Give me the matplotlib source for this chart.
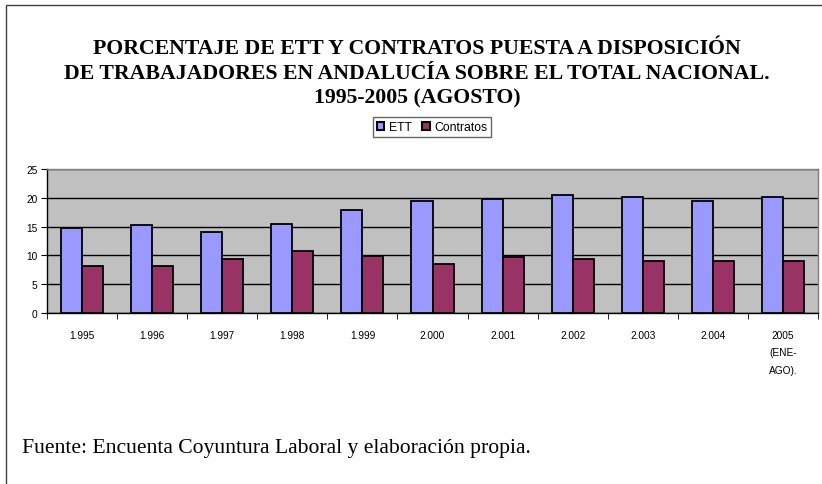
import matplotlib
matplotlib.use("Agg")
import matplotlib.pyplot as plt
import numpy as np
from matplotlib.patches import Rectangle
from matplotlib.ticker import FixedLocator

categories = ["1.995", "1.996", "1.997", "1.998", "1.999", "2.000", "2.001",
              "2.002", "2.003", "2.004", "2005\n(ENE-\nAGO)."]
ett = [14.8, 15.2, 14.0, 15.5, 17.9, 19.4, 19.8, 20.5, 20.1, 19.4, 20.1]
contratos = [8.2, 8.2, 9.3, 10.7, 9.9, 8.5, 9.7, 9.4, 9.0, 9.0, 9.0]
yticks = [0, 5, 10, 15, 20, 25]
title = ("PORCENTAJE DE ETT Y CONTRATOS PUESTA A DISPOSICIÓN\n"
         "DE TRABAJADORES EN ANDALUCÍA SOBRE EL TOTAL NACIONAL.\n"
         "1995-2005 (AGOSTO)")
source = "Fuente: Encuenta Coyuntura Laboral y elaboración propia."

W, H = 822, 485
fig = plt.figure(figsize=(W / 100, H / 100), dpi=100)
fig.patch.set_facecolor("white")

# outer frame
fig.patches.append(Rectangle((6 / W, -0.05), 1.2, (H - 6) / H + 0.05,
                             transform=fig.transFigure, fill=False,
                             edgecolor="#404040", linewidth=1.0))

ax = fig.add_axes([47 / W, (H - 314) / H, (818 - 47) / W, (314 - 170) / H])
ax.set_facecolor("#C0C0C0")

x = np.arange(len(categories))
w = 0.3
ax.bar(x - w / 2, ett, width=w, color="#9999FF", edgecolor="black",
       linewidth=1.3, label="ETT", zorder=3)
ax.bar(x + w / 2, contratos, width=w, color="#993366", edgecolor="black",
       linewidth=1.3, label="Contratos", zorder=3)

ax.set_xlim(-0.5, len(categories) - 0.5)
ax.set_ylim(0, 25)
ax.set_yticks(yticks)
ax.yaxis.grid(True, color="black", linewidth=1.0, zorder=1)
ax.set_axisbelow(True)

ax.set_xticks(x)
ax.set_xticklabels(categories, fontsize=7.3, family="Liberation Sans",
                   linespacing=1.95, va="top")
ax.tick_params(axis="x", which="major", length=0, pad=12)
ax.xaxis.set_minor_locator(FixedLocator(np.arange(-0.5, len(categories), 1.0)))
ax.tick_params(axis="x", which="minor", length=4, direction="out", color="black")
ax.tick_params(axis="y", length=4, direction="out", color="black",
               labelsize=7.3, pad=3)
for lab in ax.get_yticklabels():
    lab.set_family("Liberation Sans")

ax.spines["left"].set_color("black")
ax.spines["bottom"].set_color("black")
ax.spines["top"].set_color("#808080")
ax.spines["right"].set_color("#808080")
for s in ax.spines.values():
    s.set_linewidth(1.0)

fig.text(417 / W, 1 - 74 / H, title, ha="center", va="center",
         family="Liberation Serif", fontweight="bold", fontsize=15.7,
         linespacing=1.3)

leg = fig.legend(loc="center", bbox_to_anchor=(432 / W, 1 - 128 / H),
                 ncol=2, frameon=True, fancybox=False,
                 handlelength=0.6, handleheight=0.6, handletextpad=0.35,
                 columnspacing=0.9, borderpad=0.35,
                 prop={"family": "Liberation Sans", "size": 8.8})
leg.get_frame().set_edgecolor("#404040")
leg.get_frame().set_linewidth(1.0)
for h in leg.legend_handles:
    h.set_linewidth(1.5)

fig.text(22 / W, 1 - 449 / H, source, ha="left", va="center",
         family="Liberation Serif", fontsize=15.6)

fig.savefig("out.png", dpi=100)
